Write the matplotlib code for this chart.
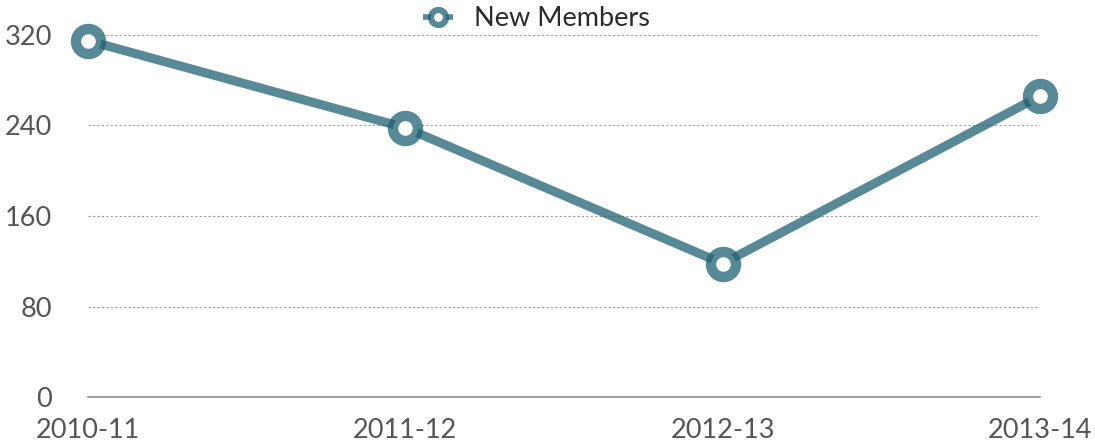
import matplotlib.pyplot as plt

# data
seasons = ["2010-11", "2011-12", "2012-13", "2013-14"]
new_members = [315, 238, 118, 266]
y_ticks = [0, 80, 160, 240, 320]

plt.rcParams['font.family'] = ['Lato', 'DejaVu Sans']

line_col = (0.125, 0.384, 0.451, 0.75)
text_col = '#555555'

fig = plt.figure(figsize=(10.95, 4.48), dpi=100)
ax = fig.add_axes([0.0804, 0.1138, 0.8694, 0.8081])

x = list(range(len(seasons)))
ax.plot(x, new_members, color=line_col, linewidth=6.5, solid_capstyle='butt',
        marker='o', markersize=18, markeredgewidth=7.5,
        markerfacecolor='white', markeredgecolor=line_col,
        clip_on=False, zorder=3, label='New Members')

ax.set_xlim(0, 3)
ax.set_ylim(0, 320)
ax.set_xticks(x)
ax.set_xticklabels(seasons)
ax.set_yticks(y_ticks)

for t in y_ticks[1:]:
    ax.axhline(t, color='#9a9a9a', linewidth=0.8, linestyle=(0, (2, 2)), zorder=1)
ax.axhline(0, color='#8c8c8c', linewidth=1.2, zorder=1, clip_on=False)

for s in ax.spines.values():
    s.set_visible(False)
ax.tick_params(axis='both', length=0, labelsize=19.5, colors=text_col)
ax.tick_params(axis='y', pad=26)
ax.tick_params(axis='x', pad=15)

leg = fig.legend(handles=ax.get_lines()[:1], labels=['New Members'],
                 loc='center', bbox_to_anchor=(0.49, 0.958), frameon=False,
                 fontsize=19.5, handlelength=1.1, markerscale=0.6,
                 handletextpad=0.8)
for t in leg.get_texts():
    t.set_color('#2b2b2b')
for h in leg.legend_handles:
    h.set_linewidth(4)
    h.set_markeredgewidth(4.5)

fig.savefig('out.png', dpi=100)
